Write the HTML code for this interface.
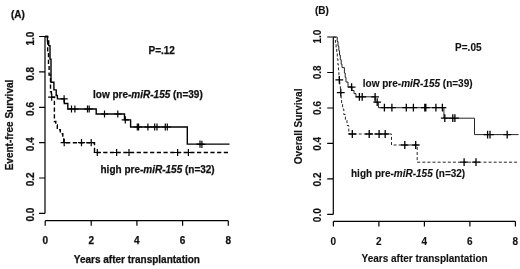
<!DOCTYPE html>
<html><head><meta charset="utf-8"><title>Survival</title>
<style>
html,body{margin:0;padding:0;background:#fff}
svg{display:block;will-change:transform;filter:grayscale(1)}
text{font-family:"Liberation Sans",Arial,sans-serif;font-weight:bold;font-size:10px;fill:#111;stroke:#111;stroke-width:0.25}
.l{fill:none;stroke:#000;stroke-width:1.4}
.d{stroke-dasharray:4.2 2.5}
.c{fill:none;stroke:#000;stroke-width:1.2}
.rt text{stroke-width:0.12}
.r.l{stroke-width:0.95;stroke:#1a1a1a}
.r.d{stroke-dasharray:3 2.1}
.r.c{stroke-width:1.3}
.a{fill:none;stroke:#000;stroke-width:1.2}
</style></head><body>
<svg width="520" height="269" viewBox="0 0 520 269">
<rect width="520" height="269" fill="#fff"/>
<!-- left panel -->
<path class="a" d="M45.0,36.5V213.4M39.1,213.4H45.0M39.1,178.0H45.0M39.1,142.6H45.0M39.1,107.3H45.0M39.1,71.9H45.0M39.1,36.5H45.0M45.2,220.7H228.3M45.2,220.7v5.1M91.2,220.7v5.1M136.9,220.7v5.1M182.6,220.7v5.1M228.3,220.7v5.1"/>
<path class="l" d="M45.0,36.5 H47.4 V41 H48.7 V45.6 H50 V59.1 H51 V82.2 H53.9 V89.9 H56.2 V95.5 H57.4 V98.9 H64.3 V103.5 H67.8 V109 H96.2 V114 H124.5 V119.9 H130.6 V127 H187.3 V144.1 H229.5"/>
<path class="c" d="M60.5,98.9h7.2M64.1,95.3v7.2M67.9,109.0h7.2M71.5,105.4v7.2M71.3,109.0h7.2M74.9,105.4v7.2M83.9,109.0h7.2M87.5,105.4v7.2M85.6,109.0h7.2M89.2,105.4v7.2M100.9,114.0h7.2M104.5,110.4v7.2M114.2,114.0h7.2M117.8,110.4v7.2M121.7,119.9h7.2M125.3,116.3v7.2M133.7,127.0h7.2M137.3,123.4v7.2M135.0,127.0h7.2M138.6,123.4v7.2M144.3,127.0h7.2M147.9,123.4v7.2M151.1,127.0h7.2M154.7,123.4v7.2M153.4,127.0h7.2M157.0,123.4v7.2M161.7,127.0h7.2M165.3,123.4v7.2M163.7,127.0h7.2M167.3,123.4v7.2M196.4,144.2h7.2M200.0,140.6v7.2M198.3,144.3h7.2M201.9,140.7v7.2"/>
<path class="l d" d="M45.0,36.5 H47.7 V53 H48.5 V64 H49.1 V75 H50.5 V91.7 H51.4 V97.2 H54.4 V121.5 H55.8 V125 H57.3 V129.7 H60.3 V133.8 H62.8 V138 H63.8 V142.7 H94.5 V152.5 H229.5"/>
<path class="c" d="M48.1,97.2h7.2M51.7,93.6v7.2M60.6,142.7h7.2M64.2,139.1v7.2M77.9,142.7h7.2M81.5,139.1v7.2M87.6,142.7h7.2M91.2,139.1v7.2M93.7,152.5h7.2M97.3,148.9v7.2M113.0,152.5h7.2M116.6,148.9v7.2M125.4,152.5h7.2M129.0,148.9v7.2M174.0,152.5h7.2M177.6,148.9v7.2M184.8,152.5h7.2M188.4,148.9v7.2"/>
<text x="11" y="18.2">(A)</text>
<text x="148.5" y="53.6">P=.12</text>
<text x="93" y="98.0">low pre-<tspan font-style="italic">miR-155</tspan> (n=39)</text>
<text x="100.5" y="173.0">high pre-<tspan font-style="italic">miR-155</tspan> (n=32)</text>
<text transform="translate(12.6,125.0) rotate(-90)" text-anchor="middle">Event-free Survival</text>
<text transform="translate(33.6,214.6) rotate(-90)" text-anchor="middle">0.0</text><text transform="translate(33.6,179.4) rotate(-90)" text-anchor="middle">0.2</text><text transform="translate(33.6,144.2) rotate(-90)" text-anchor="middle">0.4</text><text transform="translate(33.6,109.0) rotate(-90)" text-anchor="middle">0.6</text><text transform="translate(33.6,73.8) rotate(-90)" text-anchor="middle">0.8</text><text transform="translate(33.6,38.6) rotate(-90)" text-anchor="middle">1.0</text>
<text x="45.2" y="244.4" text-anchor="middle">0</text><text x="91.2" y="244.4" text-anchor="middle">2</text><text x="136.9" y="244.4" text-anchor="middle">4</text><text x="182.6" y="244.4" text-anchor="middle">6</text><text x="228.3" y="244.4" text-anchor="middle">8</text>
<text x="136.9" y="263" text-anchor="middle">Years after transplantation</text>
<!-- right panel -->
<g class="rt">
<path class="a" d="M333.3,37V214.4M327.2,214.4H333.3M327.2,178.9H333.3M327.2,143.4H333.3M327.2,108.0H333.3M327.2,72.5H333.3M327.2,37.0H333.3M333.4,221.3H515.4M333.4,221.3v5.3M378.9,221.3v5.3M424.4,221.3v5.3M469.9,221.3v5.3M515.4,221.3v5.3"/>
<path class="r l" d="M333.3,37 H337.2 V41.5 H338 V46 H338.8 V50.6 H339.5 V55.1 H340.3 V59.7 H341.2 V64.2 H342 V67.6 H344.4 V73 H345.2 V77.4 H346 V82 H348 V86.8 H352 V90.5 H354 V93.6 H356 V96.8 H375.1 V102.2 H378.4 V107.7 H443.9 V118.2 H474.5 V134.6 H518.5"/>
<path class="r c" d="M347.7,87.2h7.8M351.6,83.3v7.8M355.5,96.8h7.8M359.4,92.9v7.8M358.3,96.8h7.8M362.2,92.9v7.8M371.2,96.8h7.8M375.1,92.9v7.8M373.3,102.2h7.8M377.2,98.3v7.8M380.5,107.7h7.8M384.4,103.8v7.8M388.0,107.7h7.8M391.9,103.8v7.8M402.4,107.7h7.8M406.3,103.8v7.8M409.5,107.7h7.8M413.4,103.8v7.8M420.9,107.7h7.8M424.8,103.8v7.8M421.9,107.7h7.8M425.8,103.8v7.8M432.0,107.7h7.8M435.9,103.8v7.8M438.5,107.7h7.8M442.4,103.8v7.8M440.9,118.2h7.8M444.8,114.3v7.8M448.9,118.2h7.8M452.8,114.3v7.8M451.0,118.2h7.8M454.9,114.3v7.8M483.7,134.6h7.8M487.6,130.7v7.8M486.1,134.6h7.8M490.0,130.7v7.8M503.3,134.6h7.8M507.2,130.7v7.8"/>
<path class="r l d" d="M333.3,37 H335.4 V42.5 H336.1 V48 H336.7 V53.6 H337.3 V59 H337.9 V64.6 H338.5 V70 H338.9 V75.7 H339.4 V79.9 H339.8 V86.5 H340.4 V92.7 H341 V98 H341.6 V103.4 H342.6 V109 H343.8 V114.5 H345.4 V120 H347 V125.5 H348.8 V134 H391.5 V145 H417.2 V162.2 H518.5"/>
<path class="r c" d="M335.4,79.9h7.8M339.3,76.0v7.8M336.9,92.7h7.8M340.8,88.8v7.8M348.4,134.0h7.8M352.3,130.1v7.8M365.3,134.0h7.8M369.2,130.1v7.8M375.2,134.0h7.8M379.1,130.1v7.8M381.3,134.0h7.8M385.2,130.1v7.8M400.9,145.0h7.8M404.8,141.1v7.8M411.8,145.0h7.8M415.7,141.1v7.8M460.2,162.2h7.8M464.1,158.3v7.8M472.1,162.2h7.8M476.0,158.3v7.8"/>
<text x="315.0" y="13.6">(B)</text>
<text x="455.1" y="51.0">P=.05</text>
<text x="362.8" y="87.0">low pre-<tspan font-style="italic">miR-155</tspan> (n=39)</text>
<text x="351" y="177">high pre-<tspan font-style="italic">miR-155</tspan> (n=32)</text>
<text transform="translate(302.1,126.4) rotate(-90)" text-anchor="middle">Overall Survival</text>
<text transform="translate(320.7,215.2) rotate(-90)" text-anchor="middle">0.0</text><text transform="translate(320.7,179.5) rotate(-90)" text-anchor="middle">0.2</text><text transform="translate(320.7,143.8) rotate(-90)" text-anchor="middle">0.4</text><text transform="translate(320.7,108.0) rotate(-90)" text-anchor="middle">0.6</text><text transform="translate(320.7,72.3) rotate(-90)" text-anchor="middle">0.8</text><text transform="translate(320.7,36.6) rotate(-90)" text-anchor="middle">1.0</text>
<text x="333.4" y="244.5" text-anchor="middle">0</text><text x="378.9" y="244.5" text-anchor="middle">2</text><text x="424.4" y="244.5" text-anchor="middle">4</text><text x="469.9" y="244.5" text-anchor="middle">6</text><text x="515.4" y="244.5" text-anchor="middle">8</text>
<text x="424.6" y="262.2" text-anchor="middle">Years after transplantation</text>
</g>
</svg>
</body></html>
